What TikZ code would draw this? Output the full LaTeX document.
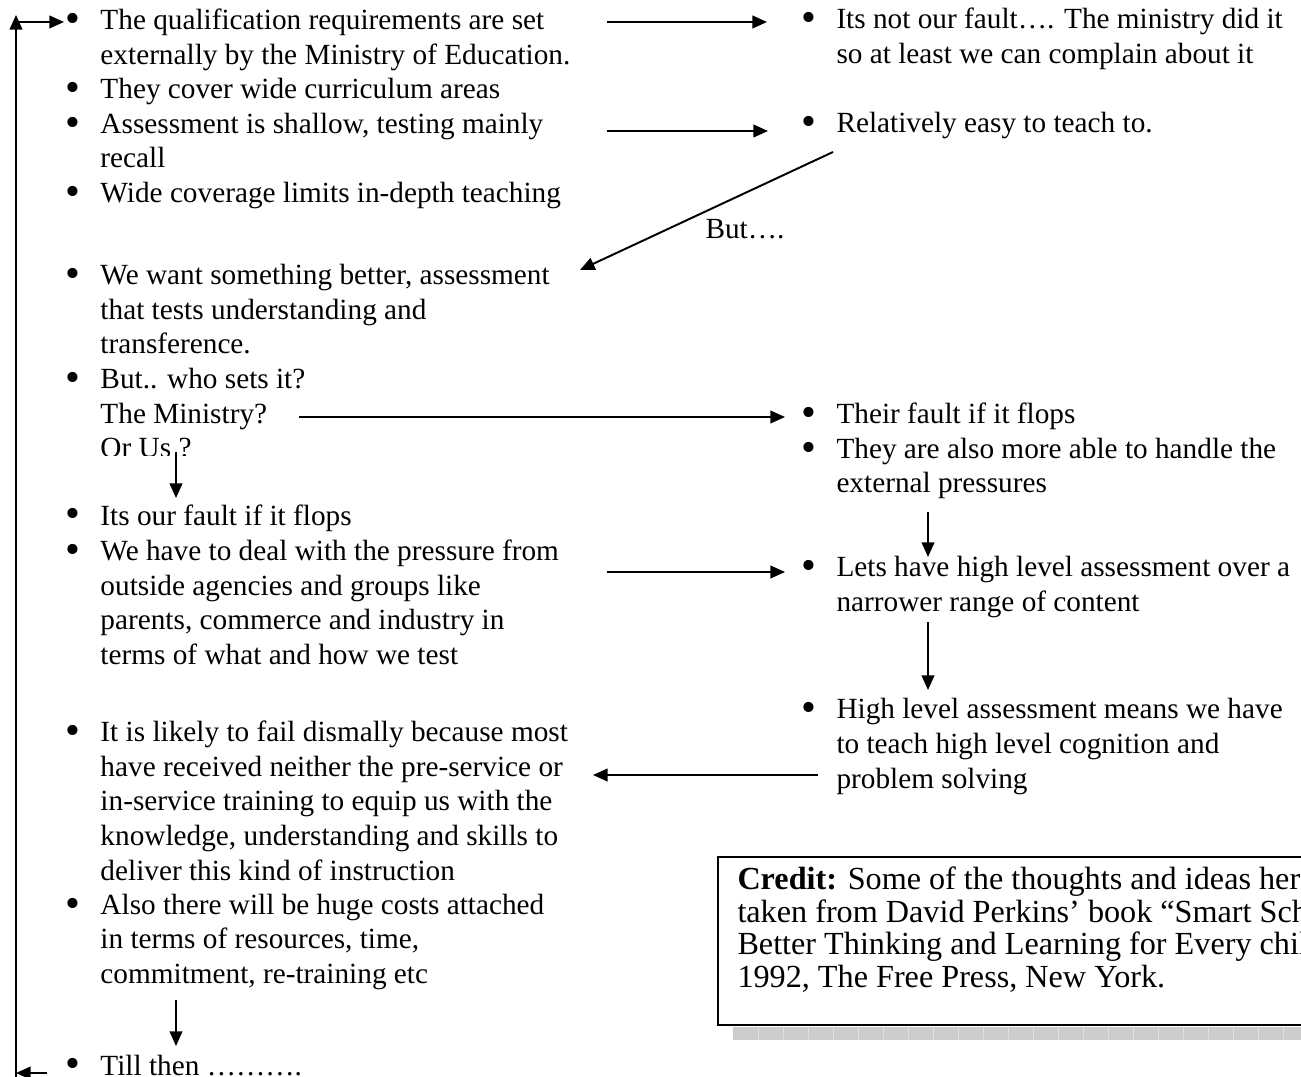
\documentclass[tikz,border=0pt]{standalone}
\usepackage{fontspec}
\setmainfont{Liberation Serif}
\usetikzlibrary{arrows.meta}
\newcommand{\bl}{\llap{\raisebox{-1.1pt}{\scalebox{1.45}{\textbullet}}\hspace{8.2pt}}}

\begin{document}
\begin{tikzpicture}[
                x=0.41pt, y=-0.41pt,          % 1 单位 = 1 像素
                every node/.style={
                    inner sep=0pt,
                    font=\fontsize{12}{14.15}\selectfont
                },
                item/.style={anchor=base west, align=left},  % 锚点为最后一行基线
                >={Triangle[length=6pt,width=5.2pt]},
                arrow/.style={->, line width=0.8pt}
            ]
                \clip (0,0) rectangle (1301,1077);  % 画布

                % 左列
                \node[item] (L1) at (100,64.5) {\bl The qualification requirements are set\\externally by the Ministry of Education.};
                \node[item] (L2) at (100,99) {\bl They cover wide curriculum areas};
                \node[item] (L3) at (100,168) {\bl Assessment is shallow, testing mainly\\recall};
                \node[item] (L4) at (100,202.5) {\bl Wide coverage limits in-depth teaching};
                \node[item] (L5) at (100,354) {\bl We want something better, assessment\\that tests understanding and\\transference.};
                \begin{scope}
                    \clip (60,360) rectangle (420,456);  % 文字被截断
                    \node[item] (L6) at (100,458) {\bl But.. who sets it?\\The Ministry?\\Or Us ?};
                \end{scope}
                \node[item] (L7) at (100,525) {\bl Its our fault if it flops};
                \node[item] (L8) at (100,664.5) {\bl We have to deal with the pressure from\\outside agencies and groups like\\parents, commerce and industry in\\terms of what and how we test};
                \node[item] (L9) at (100,880) {\bl It is likely to fail dismally because most\\have received neither the pre-service or\\in-service training to equip us with the\\knowledge, understanding and skills to\\deliver this kind of instruction};
                \node[item] (L10) at (100,983.5) {\bl Also there will be huge costs attached\\in terms of resources, time,\\commitment, re-training etc};
                \node[item] (L11) at (100,1075) {\bl Till then ……….};

                % 右列
                \node[item] (R1) at (836,63.5) {\bl Its not our fault…. The ministry did it\\so at least we can complain about it};
                \node[item] (R2) at (836,133) {\bl Relatively easy to teach to.};
                \node[item] (but) at (705,239) {But….};
                \node[item] (R3) at (836,424) {\bl Their fault if it flops};
                \node[item] (R4) at (836,493) {\bl They are also more able to handle the\\external pressures};
                \node[item] (R5) at (836,611.5) {\bl Lets have high level assessment over a\\narrower range of content};
                \node[item] (R6) at (836,788) {\bl High level assessment means we have\\to teach high level cognition and\\problem solving};

                % 致谢框
                \fill[gray!40] (733,1027) rectangle (1310,1040);
                \foreach \x in {758,783,...,1300}
                    \draw[gray!25, line width=0.3pt] (\x,1027) -- (\x,1040);
                \draw[line width=0.7pt, fill=white] (718,857) rectangle (1320,1025);
                \node[item, font=\fontsize{13.2}{13.3}\selectfont] (credit) at (737,987) {\textbf{Credit:} Some of the thoughts and ideas here are\\taken from David Perkins’ book “Smart Schools:\\Better Thinking and Learning for Every child”\\1992, The Free Press, New York.};

                % 箭头端点
                \coordinate (a1) at (607,22);   \coordinate (b1) at (767,22);
                \coordinate (a2) at (607,131);  \coordinate (b2) at (768,131);
                \coordinate (a3) at (833,152);  \coordinate (b3) at (580,270);
                \coordinate (a4) at (299,417);  \coordinate (b4) at (785,417);
                \coordinate (a5) at (176,452);  \coordinate (b5) at (176,498);
                \coordinate (a6) at (607,572);  \coordinate (b6) at (785,572);
                \coordinate (a7) at (928,512);  \coordinate (b7) at (928,557);
                \coordinate (a8) at (928,622);  \coordinate (b8) at (928,690);
                \coordinate (a9) at (818,775);  \coordinate (b9) at (593,775);
                \coordinate (a10) at (176,1000); \coordinate (b10) at (176,1046);
                \coordinate (lb) at (47,1073);  \coordinate (lc) at (16,1073);
                \coordinate (ld) at (16,1085);  \coordinate (lt) at (16,15);
                \coordinate (lh) at (16,22);    \coordinate (le) at (64,22);

                % 箭头
                \draw[arrow] (a1) -- (b1);
                \draw[arrow] (a2) -- (b2);
                \draw[arrow] (a3) -- (b3);
                \draw[arrow] (a4) -- (b4);
                \draw[arrow] (a5) -- (b5);
                \draw[arrow] (a6) -- (b6);
                \draw[arrow] (a7) -- (b7);
                \draw[arrow] (a8) -- (b8);
                \draw[arrow] (a9) -- (b9);
                \draw[arrow] (a10) -- (b10);
                \draw[arrow] (lb) -- (lc);   % 回到开头
                \draw[arrow] (ld) -- (lt);
                \draw[arrow] (lh) -- (le);
            \end{tikzpicture}
\end{document}
